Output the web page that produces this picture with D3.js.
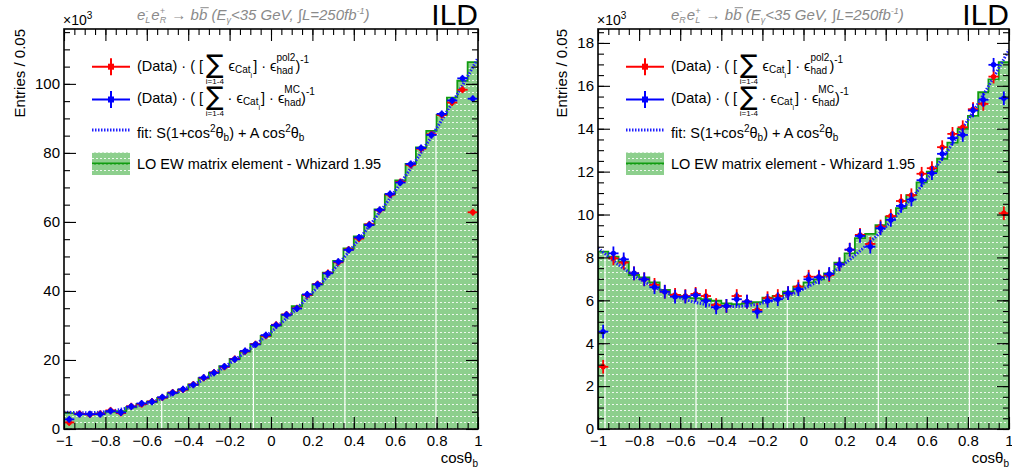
<!DOCTYPE html>
<html>
<head>
<meta charset="utf-8">
<script src="https://cdn.jsdelivr.net/npm/d3@7"></script>
<style>
  body { margin: 0; background: #fff; }
  svg { display: block; font-family: "Liberation Sans", Arial, Helvetica, sans-serif; }
  text { white-space: pre; }
</style>
</head>
<body>
<svg id="chart" width="1012" height="474"></svg>
<script>
// ---- data (values in units of 10^3 entries) ----
const binWidth = 0.05;
const binLow = d3.range(40).map(i => -1 + i * binWidth);

const xTicks = [-1, -0.8, -0.6, -0.4, -0.2, 0, 0.2, 0.4, 0.6, 0.8, 1];
const yTicksLeft = [0, 20, 40, 60, 80, 100];
const yTicksRight = [0, 2, 4, 6, 8, 10, 12, 14, 16, 18];

// LO EW Whizard histogram
const histLeft = [4.6, 4.4, 4.3, 4.5, 5.0, 5.2, 6.3, 7.3, 7.9, 9.0, 10.4, 11.4, 12.9, 14.7, 16.3, 18.2, 20.3, 22.4, 24.6, 27.0,
                  29.9, 33.1, 35.6, 38.8, 41.9, 45.3, 48.7, 52.3, 55.8, 59.3, 63.6, 68.0, 72.0, 76.8, 81.6, 86.4, 91.0, 96.0, 100.9, 106.3];
const histRight = [8.27, 8.04, 7.80, 7.18, 7.07, 6.84, 6.48, 6.25, 6.14, 6.10, 6.06, 5.98, 5.86, 5.82, 5.86, 5.91, 6.12, 6.20, 6.40, 6.64,
                   6.84, 6.98, 7.26, 7.76, 8.19, 8.90, 9.10, 9.50, 9.90, 10.3, 10.9, 11.5, 12.0, 12.6, 13.35, 14.0, 14.6, 15.7, 16.3, 17.1];

// Data corrected with pol2 efficiency (red)
const redLeft = [1.9, 4.4, 4.2, 4.4, 5.4, 4.6, 6.6, 7.2, 8.0, 9.1, 10.6, 11.4, 12.9, 14.8, 16.4, 18.0, 20.3, 22.5, 24.6, 27.0,
                 30.2, 33.2, 35.0, 38.8, 42.0, 45.2, 48.3, 52.0, 55.2, 59.3, 63.4, 67.9, 71.6, 76.5, 81.2, 85.4, 91.0, 94.6, 98.3, 62.8];
const redRight = [2.9, 7.96, 7.76, 7.26, 6.98, 6.72, 6.40, 6.25, 6.20, 6.30, 6.20, 5.78, 5.74, 6.20, 5.94, 5.55, 6.10, 6.20, 6.33, 6.64,
                  7.10, 7.10, 7.18, 7.68, 8.36, 9.05, 8.63, 9.44, 9.93, 10.63, 10.90, 11.90, 12.16, 13.14, 13.76, 14.07, 14.91, 15.16, 16.43, 10.06];

// Data corrected with MC efficiency (blue)
const blueLeft = [2.8, 4.3, 4.3, 4.3, 5.2, 4.8, 6.5, 7.4, 7.9, 9.2, 10.5, 11.5, 12.8, 14.9, 16.3, 18.1, 20.2, 22.6, 24.5, 27.2,
                  30.1, 33.1, 34.9, 39.0, 41.9, 45.1, 48.5, 51.9, 55.5, 59.1, 63.5, 68.1, 71.4, 76.8, 81.4, 85.2, 91.3, 95.2, 101.6, 95.7];
const blueRight = [4.54, 8.19, 7.91, 7.26, 6.98, 6.61, 6.40, 6.17, 6.17, 6.24, 5.98, 5.67, 5.74, 6.05, 5.94, 5.47, 5.98, 6.05, 6.33, 6.52,
                   6.98, 7.07, 7.23, 7.68, 8.36, 9.00, 8.50, 9.36, 9.75, 10.40, 10.70, 11.60, 11.93, 12.83, 13.56, 13.71, 14.85, 15.35, 16.98, 15.42];

const errLeft = 1.0;
const errRight = 0.32;

// fit curve, sampled every 0.1
const fitX = [-1, -0.9, -0.8, -0.7, -0.6, -0.5, -0.4, -0.3, -0.2, -0.1, 0, 0.1, 0.2, 0.3, 0.4, 0.5, 0.6, 0.7, 0.8, 0.9, 1];
const fitLeft = [4.9, 4.7, 5.0, 6.0, 7.4, 9.5, 12.1, 15.2, 19.0, 23.3, 28.1, 33.5, 39.5, 46.0, 53.1, 60.8, 69.0, 77.8, 87.1, 97.0, 107.5];
const fitRight = [8.44, 7.66, 7.01, 6.50, 6.11, 5.85, 5.72, 5.73, 5.87, 6.13, 6.53, 7.06, 7.71, 8.51, 9.42, 10.47, 11.65, 12.96, 14.41, 15.98, 17.68];

// white seams of the fill pattern
const seamsLeft = [-0.528, -0.085, 0.357, 0.797];
const seamsRight = [-0.966, -0.523, -0.079, 0.364, 0.807];

// ---- drawing ----
const RED = "#ff0000", BLUE = "#0000ff", FIT = "#2020ff", GREEN_LINE = "#109c10", GREY = "#8a8a8a";
const TOP = 29, BOTTOM = 429;

const svg = d3.select("#chart");
const defs = svg.append("defs");
const pat = defs.append("pattern").attr("id", "hatch")
    .attr("patternUnits", "userSpaceOnUse").attr("width", 4).attr("height", 6);
pat.append("rect").attr("width", 4).attr("height", 6).attr("fill", "#8dcf8d");
pat.append("rect").attr("x", 0).attr("y", 2).attr("width", 2).attr("height", 1).attr("fill", "#ffffff").attr("opacity", 0.85);

const fmt = d => d === 0 ? "0" : (d < 0 ? "\u2212" : "") + Math.abs(d);

// places a row of text pieces, with sub/superscripts
function rich(sel, x0, y0, parts, opts) {
    let cx = x0, lastStart = x0, lastW = 0;
    parts.forEach(pt => {
        const fs = pt.fs || opts.fs;
        const t = sel.append("text")
            .attr("y", y0 + (pt.dy || 0))
            .attr("font-size", fs)
            .attr("fill", opts.fill || "#000")
            .text(pt.t);
        if (pt.font) t.attr("font-family", pt.font);
        if (opts.italic) t.attr("font-style", "italic");
        if (pt.under) {
            t.attr("x", lastStart + lastW / 2).attr("text-anchor", "middle");
            return;
        }
        const start = pt.stack ? lastStart : cx + (pt.dx || 0);
        t.attr("x", start);
        const w = t.node().getComputedTextLength();
        if (pt.over) {
            sel.append("line")
                .attr("x1", start + 1.5).attr("x2", start + w + 1.5)
                .attr("y1", y0 - fs * 0.82).attr("y2", y0 - fs * 0.82)
                .attr("stroke", opts.fill || "#000").attr("stroke-width", 1);
        }
        if (pt.stack) {
            cx = Math.max(cx, start + w);
        } else {
            lastStart = start; lastW = w; cx = start + w;
        }
    });
}

function drawPanel(p) {
    const x = d3.scaleLinear().domain([-1, 1]).range([p.x0, p.x1]);
    const y = d3.scaleLinear().domain([0, p.yMax]).range([BOTTOM, TOP]);
    const g = svg.append("g");

    defs.append("clipPath").attr("id", "clip-" + p.id)
        .append("rect").attr("x", p.x0).attr("y", TOP)
        .attr("width", p.x1 - p.x0).attr("height", BOTTOM - TOP);
    const plot = g.append("g").attr("clip-path", `url(#clip-${p.id})`);

    // histogram
    const stepPts = [[-1, 0]]
        .concat(p.hist.map((v, i) => [binLow[i], v]))
        .concat([[1, p.hist[p.hist.length - 1]], [1, 0]]);
    const step = d3.line().x(d => x(d[0])).y(d => y(d[1])).curve(d3.curveStepAfter);
    plot.append("path").attr("d", step(stepPts)).attr("fill", "url(#hatch)");

    plot.selectAll(".seam")
        .data(p.seams)
        .enter()
        .append("line")
        .attr("class", "seam")
        .attr("x1", d => x(d)).attr("x2", d => x(d))
        .attr("y1", BOTTOM)
        .attr("y2", d => y(p.hist[Math.min(39, Math.floor((d + 1) / binWidth))]) + 2)
        .attr("stroke", "#fff").attr("stroke-width", 1.2);

    plot.append("path").attr("d", step(stepPts))
        .attr("fill", "none").attr("stroke", GREEN_LINE).attr("stroke-width", 1.8);

    // fit
    const fitLine = d3.line().x((d, i) => x(fitX[i])).y(d => y(d)).curve(d3.curveCatmullRom);
    plot.append("path").attr("d", fitLine(p.fit))
        .attr("fill", "none").attr("stroke", FIT).attr("stroke-width", 3)
        .attr("stroke-dasharray", "1.5 1.5");

    // data points
    [[p.red, RED], [p.blue, BLUE]].forEach(([vals, color]) => {
        const pts = plot.append("g")
            .selectAll("g")
            .data(vals)
            .enter()
            .append("g")
            .attr("stroke", color).attr("fill", color).attr("stroke-width", 1.8);
        pts.append("line")
            .attr("x1", (d, i) => x(binLow[i])).attr("x2", (d, i) => x(binLow[i] + binWidth))
            .attr("y1", d => y(d)).attr("y2", d => y(d));
        pts.append("line")
            .attr("x1", (d, i) => x(binLow[i] + binWidth / 2)).attr("x2", (d, i) => x(binLow[i] + binWidth / 2))
            .attr("y1", d => y(d - p.err)).attr("y2", d => y(d + p.err));
        pts.append("circle")
            .attr("cx", (d, i) => x(binLow[i] + binWidth / 2)).attr("cy", d => y(d))
            .attr("r", 2.7).attr("stroke", "none");
    });

    // axes, ticks inward on all four sides
    const xMinor = d3.range(-1, 1.0001, binWidth);
    const yMinor = d3.range(0, p.yMax, p.yMinorStep);
    const styleAxis = sel => {
        sel.select(".domain").remove();
        sel.attr("font-family", null).attr("font-size", null);
        sel.selectAll("line").attr("stroke-width", 1.1);
        sel.selectAll("text").attr("font-size", 15).attr("fill", "#000");
    };
    g.append("g").attr("transform", `translate(0,${BOTTOM})`)
        .call(d3.axisBottom(x).tickValues(xMinor).tickSize(-6).tickFormat("")).call(styleAxis);
    g.append("g").attr("transform", `translate(0,${BOTTOM})`)
        .call(d3.axisBottom(x).tickValues(xTicks).tickSizeInner(-12).tickSizeOuter(0).tickPadding(6).tickFormat(fmt))
        .call(styleAxis);
    g.append("g").attr("transform", `translate(0,${TOP})`)
        .call(d3.axisTop(x).tickValues(xMinor).tickSize(-6).tickFormat("")).call(styleAxis);
    g.append("g").attr("transform", `translate(0,${TOP})`)
        .call(d3.axisTop(x).tickValues(xTicks).tickSize(-12).tickFormat("")).call(styleAxis);
    g.append("g").attr("transform", `translate(${p.x0},0)`)
        .call(d3.axisLeft(y).tickValues(yMinor).tickSize(-6).tickFormat("")).call(styleAxis);
    g.append("g").attr("transform", `translate(${p.x0},0)`)
        .call(d3.axisLeft(y).tickValues(p.yTicks).tickSizeInner(-12).tickSizeOuter(0).tickPadding(4).tickFormat(fmt))
        .call(styleAxis);
    g.append("g").attr("transform", `translate(${p.x1},0)`)
        .call(d3.axisRight(y).tickValues(yMinor).tickSize(-6).tickFormat("")).call(styleAxis);
    g.append("g").attr("transform", `translate(${p.x1},0)`)
        .call(d3.axisRight(y).tickValues(p.yTicks).tickSize(-12).tickFormat("")).call(styleAxis);

    g.append("rect")
        .attr("x", p.x0).attr("y", TOP)
        .attr("width", p.x1 - p.x0).attr("height", BOTTOM - TOP)
        .attr("fill", "none").attr("stroke", "#000").attr("stroke-width", 1.6);

    // axis titles
    const xt = g.append("text").attr("x", p.x1).attr("y", 463)
        .attr("text-anchor", "end").attr("font-size", 15);
    xt.append("tspan").text("cos\u03b8");
    xt.append("tspan").attr("dy", 4).attr("font-size", 10).text("b");

    g.append("text")
        .attr("transform", `translate(${p.yLabelX},${TOP}) rotate(-90)`)
        .attr("text-anchor", "end").attr("font-size", 15)
        .text("Entries / 0.05");

    const ex = g.append("text").attr("x", p.x0 - 1).attr("y", 25).attr("font-size", 14);
    ex.append("tspan").text("\u00d710");
    ex.append("tspan").attr("dy", -6).attr("font-size", 10).text("3");

    g.append("text").attr("x", p.x1).attr("y", 25)
        .attr("text-anchor", "end").attr("font-size", 30)
        .text("ILD");

    // title
    rich(g, p.x0 + 73, 20, [
        {t: "e"}, {t: "-", fs: 9, dy: -6}, {t: p.beam[0], fs: 9, dy: 3, stack: true},
        {t: "e", dx: 1}, {t: "+", fs: 9, dy: -6}, {t: p.beam[1], fs: 9, dy: 3, stack: true},
        {t: " \u2192 b", dx: 1}, {t: "b", over: true},
        {t: " (E"}, {t: "\u03b3", fs: 9, dy: 3},
        {t: "<35 GeV, "}, {t: "\u222b"}, {t: "L=250fb"}, {t: "-1", fs: 9, dy: -6}, {t: ")"}
    ], {fs: 15, fill: GREY, italic: true});

    // legend
    const lg = g.append("g");
    const mx0 = p.x0 + 28, mx1 = p.x0 + 66, mxc = (mx0 + mx1) / 2, tx = p.x0 + 73;
    [[66.7, RED], [99.5, BLUE]].forEach(([ly, color]) => {
        const m = lg.append("g").attr("stroke", color).attr("fill", color).attr("stroke-width", 2);
        m.append("line").attr("x1", mx0).attr("x2", mx1).attr("y1", ly).attr("y2", ly);
        m.append("line").attr("x1", mxc).attr("x2", mxc).attr("y1", ly - 8.5).attr("y2", ly + 8.5);
        m.append("rect").attr("x", mxc - 3).attr("y", ly - 3).attr("width", 6).attr("height", 6).attr("stroke", "none");
    });
    lg.append("line").attr("x1", mx0).attr("x2", mx1).attr("y1", 130).attr("y2", 130)
        .attr("stroke", FIT).attr("stroke-width", 3).attr("stroke-dasharray", "1.5 1.5");
    lg.append("rect").attr("x", mx0).attr("y", 152.5).attr("width", mx1 - mx0).attr("height", 22.5)
        .attr("fill", "url(#hatch)");
    lg.append("line").attr("x1", mx0).attr("x2", mx1).attr("y1", 163.5).attr("y2", 163.5)
        .attr("stroke", GREEN_LINE).attr("stroke-width", 2);

    const lfs = {fs: 14.5};
    const SUM = {t: "\u2211", fs: 26, dy: 2, dx: 3, font: "DejaVu Sans"};
    const SUB = {t: "i=1-4", fs: 8, dy: 13, under: true};
    rich(lg, tx, 71, [
        {t: "(Data) \u00b7 ( ["}, SUM, SUB,
        {t: "\u03f5", dx: 5}, {t: "Cat", fs: 10, dy: 2}, {t: "i", fs: 7, dy: 7},
        {t: "] \u00b7 \u03f5", dx: 1}, {t: "pol2", fs: 10, dy: -10}, {t: "had", fs: 10, dy: 3, stack: true},
        {t: ")"}, {t: "-1", fs: 10, dy: -8}
    ], lfs);
    rich(lg, tx, 103, [
        {t: "(Data) \u00b7 ( ["}, SUM, SUB,
        {t: " \u00b7 \u03f5"}, {t: "Cat", fs: 10, dy: 2}, {t: "i", fs: 7, dy: 7},
        {t: "] \u00b7 \u03f5", dx: 1}, {t: "MC", fs: 10, dy: -10}, {t: "had", fs: 10, dy: 3, stack: true},
        {t: ")"}, {t: "-1", fs: 10, dy: -8}
    ], lfs);
    rich(lg, tx, 137.5, [
        {t: "fit: S(1+cos"}, {t: "2", fs: 10, dy: -6}, {t: "\u03b8"}, {t: "b", fs: 10, dy: 3},
        {t: ") + A cos"}, {t: "2", fs: 10, dy: -6}, {t: "\u03b8"}, {t: "b", fs: 10, dy: 3}
    ], lfs);
    rich(lg, tx, 168.5, [{t: "LO EW matrix element - Whizard 1.95"}], lfs);
}

drawPanel({
    id: "left", x0: 64, x1: 478, yMax: 115.9, yMinorStep: 5, yTicks: yTicksLeft, yLabelX: 25,
    hist: histLeft, red: redLeft, blue: blueLeft, fit: fitLeft, err: errLeft, seams: seamsLeft,
    beam: ["L", "R"]
});
drawPanel({
    id: "right", x0: 598, x1: 1009, yMax: 18.65, yMinorStep: 0.5, yTicks: yTicksRight, yLabelX: 567,
    hist: histRight, red: redRight, blue: blueRight, fit: fitRight, err: errRight, seams: seamsRight,
    beam: ["R", "L"]
});
</script>
</body>
</html>
